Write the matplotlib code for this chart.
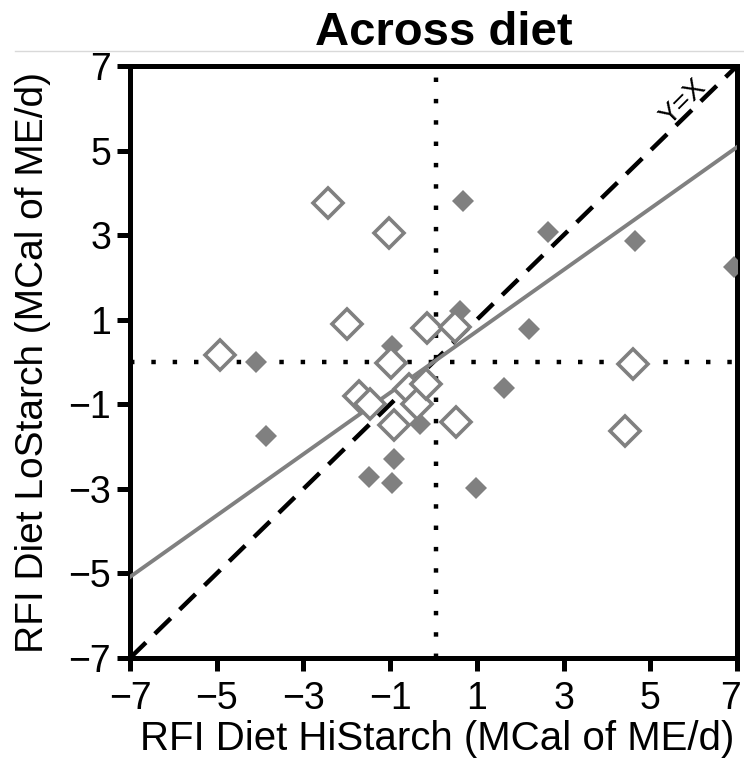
import matplotlib.pyplot as plt
import matplotlib.transforms as mtransforms
from matplotlib.lines import Line2D

plt.rcParams['font.family'] = ['Liberation Sans', 'DejaVu Sans']

# filled diamonds
filled_x = [-4.09, -3.86, -1.49, -0.95, -0.92, -0.95, -0.32, 0.62, 0.68, 0.97, 1.62, 2.20, 2.63, 4.65, 6.93]
filled_y = [0.00, -1.76, -2.73, -2.86, -2.29, 0.37, -1.47, 1.21, 3.81, -2.97, -0.62, 0.78, 3.07, 2.85, 2.24]

# open diamonds
open_x = [-4.92, -2.44, -1.02, -2.00, -1.72, -1.47, -0.99, -0.90, -0.57, -0.38, -0.18, -0.15, 0.50, 0.53, 4.59, 4.41]
open_y = [0.17, 3.75, 3.04, 0.89, -0.80, -0.99, -0.02, -1.50, -0.64, -0.99, -0.52, 0.80, 0.82, -1.42, -0.05, -1.62]

# regression line
reg_slope = 0.726
reg_intercept = 0.0

ticks = [-7, -5, -3, -1, 1, 3, 5, 7]
lim = 7

fig = plt.figure(figsize=(7.44, 7.61), dpi=100)
ax = fig.add_axes([0.1747, 0.1353, 0.8159, 0.778])

ax.plot([-lim, lim], [-lim, lim], color='black', lw=3.2, linestyle=(0, (5.0, 2.8)), zorder=2)
ax.plot([-lim, lim], [reg_intercept - reg_slope * lim, reg_intercept + reg_slope * lim],
        color='#808080', lw=2.8, zorder=3)
ax.axvline(0.05, color='black', lw=3.2, linestyle=(0, (1, 3.8)), zorder=1)
ax.axhline(0.0, color='black', lw=3.2, linestyle=(0, (1, 3.8)), zorder=1)

ax.plot(filled_x, filled_y, 'D', color='#808080', markersize=11.5, markeredgewidth=0, zorder=4)
ax.plot(open_x, open_y, 'D', markerfacecolor='white', markeredgecolor='#808080',
        markersize=15.5, markeredgewidth=2.6, zorder=5)

ax.text(5.75, 6.15, 'Y=X', rotation=45, ha='center', va='center', fontsize=20, zorder=6)

ax.set_xlim(-lim, lim)
ax.set_ylim(-lim, lim)
ax.set_xticks(ticks)
ax.set_yticks(ticks)
ax.tick_params(width=3.6, length=9.5, labelsize=27)
ax.tick_params(axis='x', pad=7)
ax.tick_params(axis='y', pad=4)
for s in ax.spines.values():
    s.set_linewidth(3.6)

# nudge the last x tick label so it stays inside the figure
last = ax.get_xticklabels()[-1]
last.set_transform(last.get_transform() + mtransforms.ScaledTranslation(-5 / 72, 0, fig.dpi_scale_trans))

ax.set_xlabel('RFI Diet HiStarch (MCal of ME/d)', fontsize=29)
ax.set_ylabel('RFI Diet LoStarch (MCal of ME/d)', fontsize=28)
ax.xaxis.set_label_coords(0.506, -0.104)
ax.yaxis.set_label_coords(-0.13, 0.5)

fig.text(0.5968, 1 - 45 / 761, 'Across diet', fontsize=34, fontweight='bold',
         ha='center', va='baseline')

fig.add_artist(Line2D([0.02, 1.0], [1 - 51 / 761, 1 - 51 / 761], color='#d9d9d9', lw=1))

plt.savefig('out.png', dpi=100)
